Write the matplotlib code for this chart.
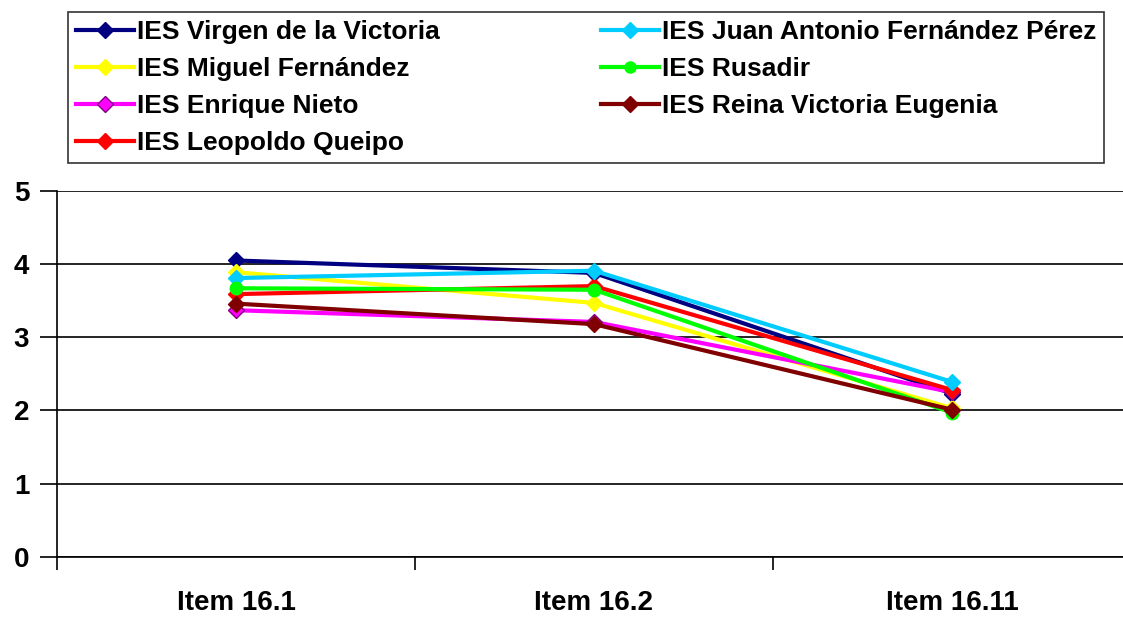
import matplotlib.pyplot as plt
from matplotlib.lines import Line2D

plt.rcParams['font.family'] = ['Liberation Sans', 'DejaVu Sans']
plt.rcParams['font.weight'] = 'bold'

items = ['Item 16.1', 'Item 16.2', 'Item 16.11']

virgen = [4.05, 3.88, 2.23]
juan_antonio = [3.81, 3.91, 2.39]
miguel = [3.89, 3.47, 2.03]
rusadir = [3.67, 3.65, 1.97]
enrique = [3.37, 3.21, 2.25]
reina = [3.46, 3.18, 2.01]
leopoldo = [3.59, 3.70, 2.28]

# name, values, line colour, marker, marker edge
series = [
    ('IES Virgen de la Victoria', virgen, '#000080', 'D', '#000080'),
    ('IES Miguel Fernández', miguel, '#FFFF00', 'D', '#FFFF00'),
    ('IES Enrique Nieto', enrique, '#FF00FF', 'D', '#800080'),
    ('IES Leopoldo Queipo', leopoldo, '#FF0000', 'D', '#FF0000'),
    ('IES Juan Antonio Fernández Pérez', juan_antonio, '#00CCFF', 'D', '#00CCFF'),
    ('IES Rusadir', rusadir, '#00FF00', 'o', '#00FF00'),
    ('IES Reina Victoria Eugenia', reina, '#800000', 'D', '#800000'),
]
draw_order = [0, 4, 1, 5, 2, 6, 3]

fig = plt.figure(figsize=(11.23, 6.18), dpi=100)
ax = fig.add_axes([57 / 1123, 1 - 556.7 / 618, 1074 / 1123, 365.7 / 618])

x = range(len(items))
for i in draw_order:
    name, vals, col, mk, edge = series[i]
    ms = 8 if mk == 'D' else 9
    ax.plot(x, vals, color=col, lw=3, marker=mk, ms=ms,
            mfc=col, mec=edge, mew=1, label=name, zorder=3 + i * 0.01)

ax.set_xlim(-0.5, 2.5)
ax.set_ylim(0, 5)
ax.set_yticks(range(6))
ax.yaxis.grid(True, color='black', lw=1.2)
ax.set_axisbelow(True)
ax.set_xticks([-0.5, 0.5, 1.5, 2.5])
ax.set_xticklabels([])
ax.set_xticks(list(x), minor=True)
ax.set_xticklabels(items, minor=True, fontsize=20, fontweight='bold')
ax.tick_params(axis='x', which='major', direction='out', length=9, width=1.2)
ax.tick_params(axis='x', which='minor', length=0, pad=24)
ax.tick_params(axis='y', direction='out', length=12, width=1.2,
               labelsize=20, pad=8)
for s in ['top', 'right']:
    ax.spines[s].set_visible(False)
for s in ['left', 'bottom']:
    ax.spines[s].set_linewidth(1.2)

leg_handles = [Line2D([], [], color=series[i][2], lw=3, marker=series[i][3],
                      ms=8, mfc=series[i][2], mec=series[i][4])
               for i in range(len(series))]
leg = fig.legend(leg_handles, [s[0] for s in series], ncol=2,
                 loc='upper left',
                 bbox_to_anchor=(68 / 1123, 1 - 12 / 618, 1036 / 1123, 0),
                 mode='expand', fontsize=19, frameon=True, fancybox=False,
                 edgecolor='black', handlelength=2.2, handletextpad=0.1,
                 labelspacing=0.5, borderpad=0.3, borderaxespad=0,
                 columnspacing=1.0)
leg.get_frame().set_linewidth(1.2)

fig.savefig('out.png', dpi=100)
